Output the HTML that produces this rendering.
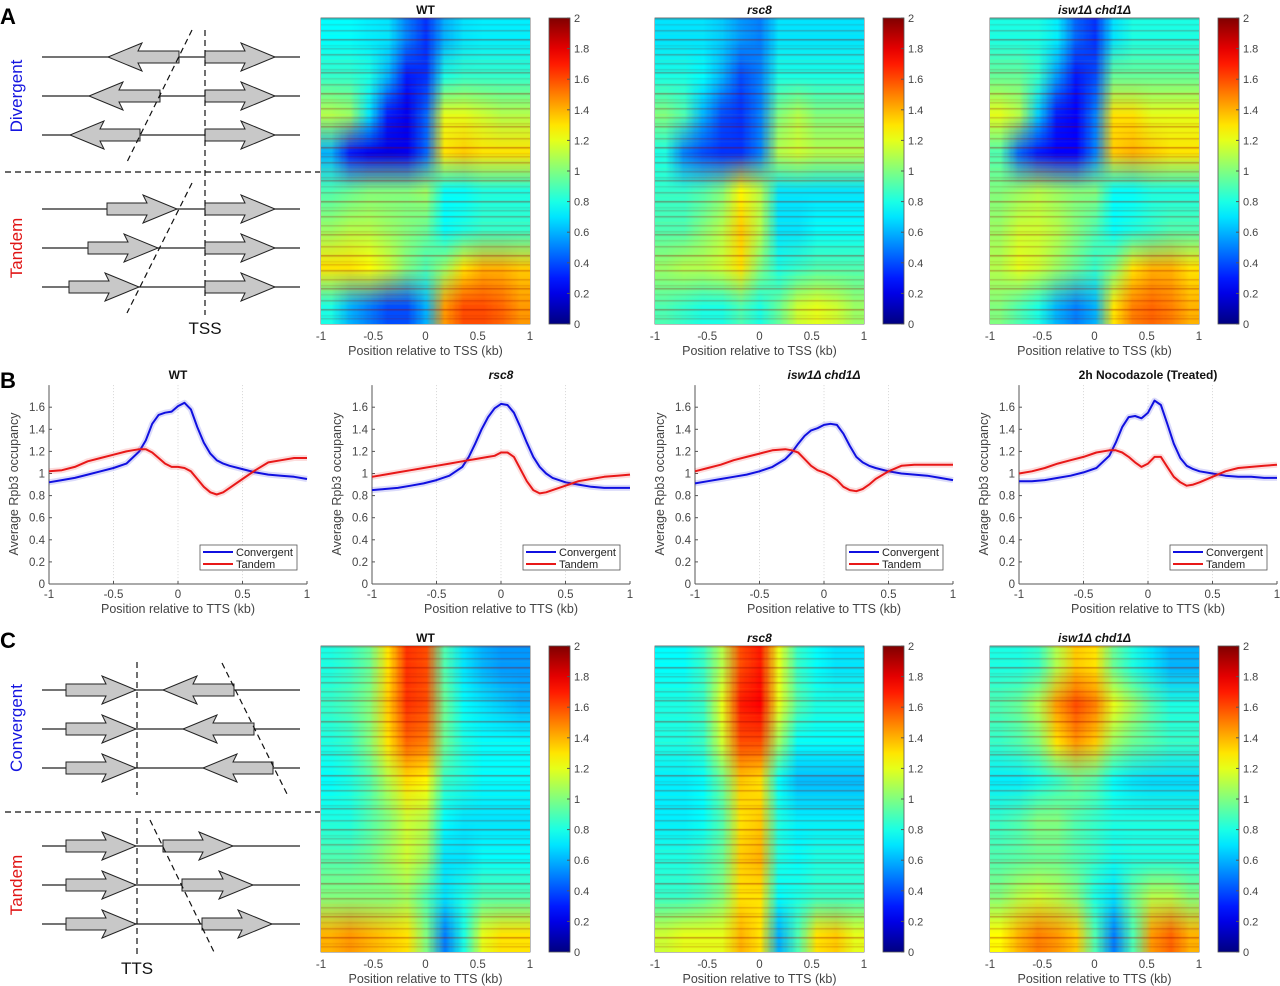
<!DOCTYPE html>
<html><head><meta charset="utf-8">
<style>
body{margin:0;background:#fff;}
#root{position:relative;width:1280px;height:986px;overflow:hidden;font-family:"Liberation Sans",sans-serif;}
canvas{position:absolute;}
svg{position:absolute;left:0;top:0;}
</style></head>
<body>
<div id="root">
<svg id="svg" width="1280" height="986"></svg>
</div>
<script>
// ---------- DATA ----------
const heatXTicks = [-1, -0.5, 0, 0.5, 1];
const heatXTickLabels = ["-1", "-0.5", "0", "0.5", "1"];
const cbarTicks = [0, 0.2, 0.4, 0.6, 0.8, 1, 1.2, 1.4, 1.6, 1.8, 2];
const cbarTickLabels = ["0","0.2","0.4","0.6","0.8","1","1.2","1.4","1.6","1.8","2"];
const heatTitles = ["WT", "rsc8", "isw1\u0394 chd1\u0394"];
const heatA_WT = [
[0.75,0.75,0.72,0.7,0.5,0.35,0.6,0.7,0.72,0.72,0.72],
[0.85,0.85,0.8,0.6,0.3,0.35,0.8,0.85,0.85,0.85,0.85],
[1.1,1.05,0.7,0.3,0.22,0.45,1.2,1.2,1.15,1.1,1.1],
[0.6,0.3,0.22,0.2,0.22,0.45,1.3,1.35,1.3,1.3,1.3],
[0.9,0.95,1.0,1.0,1.0,1.05,0.75,0.75,0.8,0.8,0.8],
[1.05,1.1,1.1,1.05,1.0,0.95,0.75,0.8,0.85,0.85,0.85],
[1.3,1.3,1.25,1.15,1.0,0.9,1.05,1.3,1.4,1.4,1.35],
[0.8,0.6,0.5,0.4,0.4,0.6,1.45,1.6,1.6,1.55,1.45]];
const heatA_rsc8 = [
[0.7,0.7,0.7,0.65,0.55,0.5,0.7,0.7,0.7,0.7,0.7],
[0.8,0.8,0.75,0.6,0.4,0.5,0.8,0.8,0.8,0.8,0.8],
[1.0,0.9,0.6,0.4,0.35,0.5,1.0,1.1,1.0,1.0,1.0],
[0.8,0.5,0.4,0.35,0.35,0.5,1.1,1.15,1.1,1.1,1.1],
[0.85,0.85,0.9,1.0,1.25,1.1,0.7,0.7,0.7,0.7,0.7],
[0.9,0.9,1.0,1.1,1.35,1.1,0.7,0.7,0.75,0.75,0.75],
[1.05,1.1,1.1,1.15,1.3,1.0,0.8,0.85,0.9,0.9,0.9],
[0.9,0.85,0.8,0.8,0.9,0.8,0.95,1.15,1.2,1.15,1.05]];
const heatA_isw1 = [
[0.8,0.8,0.8,0.72,0.45,0.35,0.7,0.8,0.8,0.8,0.8],
[0.95,0.95,0.85,0.55,0.3,0.4,0.95,0.95,0.95,0.95,0.95],
[1.2,1.1,0.65,0.3,0.25,0.5,1.3,1.3,1.2,1.2,1.2],
[0.9,0.45,0.3,0.25,0.25,0.5,1.35,1.4,1.35,1.3,1.3],
[1.0,1.05,1.1,1.05,1.0,1.0,0.75,0.75,0.8,0.8,0.8],
[1.05,1.15,1.15,1.1,1.0,0.9,0.75,0.8,0.85,0.9,0.9],
[1.1,1.2,1.15,1.05,0.95,0.85,1.0,1.3,1.4,1.4,1.3],
[1.0,0.9,0.8,0.6,0.5,0.6,1.3,1.5,1.55,1.5,1.4]];
const heatC_WT = [
[0.8,0.85,0.95,1.3,1.65,1.6,0.9,0.7,0.6,0.55,0.55],
[0.85,0.9,1.0,1.35,1.65,1.6,0.95,0.75,0.7,0.65,0.6],
[0.8,0.85,1.0,1.3,1.55,1.5,0.95,0.8,0.75,0.75,0.75],
[0.75,0.8,0.9,1.1,1.3,1.25,0.85,0.8,0.75,0.75,0.75],
[0.8,0.8,0.9,1.0,1.15,1.1,0.75,0.7,0.7,0.7,0.7],
[0.9,0.9,0.95,1.05,1.15,1.05,0.7,0.7,0.75,0.75,0.75],
[1.0,1.0,1.0,1.0,1.05,0.9,0.7,0.8,0.9,0.9,0.9],
[1.4,1.45,1.4,1.35,1.3,1.0,0.5,0.8,1.2,1.3,1.3]];
const heatC_rsc8 = [
[0.75,0.75,0.85,1.1,1.6,1.7,1.2,0.85,0.75,0.7,0.7],
[0.8,0.8,0.85,1.2,1.7,1.75,1.2,0.9,0.8,0.8,0.8],
[0.8,0.8,0.85,1.15,1.6,1.6,1.05,0.75,0.75,0.75,0.75],
[0.72,0.72,0.75,0.95,1.35,1.3,0.75,0.62,0.62,0.62,0.62],
[0.72,0.72,0.75,0.9,1.3,1.35,0.8,0.72,0.72,0.72,0.72],
[0.8,0.8,0.85,0.95,1.35,1.4,0.8,0.75,0.8,0.8,0.8],
[0.85,0.85,0.9,1.0,1.3,1.3,0.75,0.8,0.85,0.85,0.85],
[1.15,1.2,1.2,1.2,1.4,1.3,0.6,0.9,1.3,1.35,1.2]];
const heatC_isw1 = [
[0.8,0.8,0.85,1.1,1.35,1.3,0.95,0.8,0.7,0.6,0.6],
[0.9,0.95,1.1,1.45,1.6,1.5,1.2,1.05,0.9,0.8,0.8],
[0.85,0.9,1.0,1.3,1.45,1.35,1.05,0.95,0.9,0.85,0.85],
[0.72,0.72,0.78,0.85,0.95,0.9,0.75,0.7,0.68,0.68,0.68],
[0.85,0.9,1.0,1.0,0.9,0.85,0.8,0.8,0.8,0.8,0.8],
[0.9,0.92,0.95,0.95,0.9,0.85,0.78,0.8,0.8,0.8,0.8],
[1.0,1.1,1.15,1.1,1.0,0.8,0.7,0.95,1.1,1.1,1.0],
[1.25,1.4,1.5,1.45,1.35,0.9,0.5,0.9,1.45,1.55,1.4]];

const lineX = [-1,-0.9,-0.8,-0.7,-0.6,-0.5,-0.4,-0.3,-0.25,-0.2,-0.15,-0.1,-0.05,0,0.05,0.1,0.15,0.2,0.25,0.3,0.35,0.4,0.5,0.6,0.7,0.8,0.9,1];
const wtConv   = [.92,.94,.96,.99,1.02,1.05,1.09,1.2,1.3,1.45,1.53,1.55,1.56,1.61,1.64,1.58,1.42,1.28,1.18,1.12,1.09,1.07,1.04,1.01,.99,.98,.97,.95];
const wtTand   = [1.02,1.03,1.06,1.11,1.14,1.17,1.2,1.22,1.22,1.19,1.14,1.09,1.06,1.06,1.05,1.02,.95,.88,.83,.81,.83,.87,.95,1.03,1.10,1.12,1.14,1.14];
const rscConv  = [.85,.86,.87,.89,.91,.94,.98,1.06,1.15,1.27,1.40,1.51,1.59,1.63,1.62,1.55,1.42,1.28,1.15,1.06,1.0,.96,.92,.90,.88,.87,.87,.87];
const rscTand  = [.97,.99,1.01,1.03,1.05,1.07,1.09,1.11,1.12,1.13,1.14,1.15,1.16,1.19,1.19,1.15,1.04,.93,.85,.82,.83,.85,.89,.93,.95,.97,.98,.99];
const iswConv  = [.91,.93,.95,.97,.99,1.02,1.06,1.13,1.19,1.27,1.34,1.39,1.41,1.44,1.45,1.44,1.36,1.25,1.15,1.10,1.07,1.05,1.02,1.0,.99,.98,.96,.94];
const iswTand  = [1.02,1.05,1.08,1.12,1.15,1.18,1.21,1.22,1.21,1.19,1.13,1.07,1.03,1.01,.98,.94,.88,.85,.84,.86,.90,.95,1.02,1.07,1.08,1.08,1.08,1.08];
const nocoConv = [.93,.93,.94,.96,.98,1.01,1.05,1.16,1.28,1.42,1.51,1.52,1.50,1.55,1.66,1.62,1.45,1.27,1.14,1.07,1.04,1.02,1.0,.98,.97,.97,.96,.96];
const nocoTand = [1.0,1.02,1.05,1.09,1.12,1.15,1.19,1.21,1.21,1.19,1.15,1.10,1.06,1.09,1.15,1.15,1.06,.97,.92,.89,.90,.92,.97,1.02,1.05,1.06,1.07,1.08];
const lineTitles = ["WT", "rsc8", "isw1\u0394 chd1\u0394", "2h Nocodazole (Treated)"];
const lineYTicks = [0,0.2,0.4,0.6,0.8,1,1.2,1.4,1.6];
const lineYTickLabels = ["0","0.2","0.4","0.6","0.8","1","1.2","1.4","1.6"];
const lineXTicks = [-1,-0.5,0,0.5,1];
const lineXTickLabels = ["-1","-0.5","0","0.5","1"];
const legendLabels = ["Convergent", "Tandem"];

// ---------- HELPERS ----------
const NS = "http://www.w3.org/2000/svg";
const svg = document.getElementById('svg');
const root = document.getElementById('root');
function mk(tag, attrs, parent){const e=document.createElementNS(NS,tag);for(const k in attrs)e.setAttribute(k,attrs[k]);(parent||svg).appendChild(e);return e;}
function txt(s, attrs, parent){const e=mk('text',attrs,parent);e.textContent=s;return e;}
function jet(v){
  const t=Math.max(0,Math.min(1,v/2));
  const c=(x)=>Math.max(0,Math.min(1,x));
  const r=c(1.5-Math.abs(4*t-3)), g=c(1.5-Math.abs(4*t-2)), b=c(1.5-Math.abs(4*t-1));
  return [Math.round(r*255),Math.round(g*255),Math.round(b*255)];
}
const defs = mk('defs',{});
const grad = mk('linearGradient',{id:'jet',x1:0,y1:1,x2:0,y2:0},defs);
for(let i=0;i<=20;i++){const c=jet(i/10);mk('stop',{offset:(i/20),'stop-color':`rgb(${c[0]},${c[1]},${c[2]})`},grad);}

// stripe texture pattern (visual texture only)
const stripeAlpha=[0.35,0,0.12,0,0.25,0.05,0,0.4,0,0.1,0.2,0,0.3,0,0.08,0.22,0,0.15];
const stripeKind=[0,1,0,1,0,1,1,0,1,0,0,1,0,1,1,0,1,0];

// ---------- HEATMAPS ----------
function heatmap(data, hx, hy, title, xlabel, divColor, name){
  const W=209, H=306;
  const xs = v => hx + (v+1)/2*W;
  const small=document.createElement('canvas');
  small.width=data[0].length; small.height=data.length;
  const sc=small.getContext('2d');
  data.forEach((row,ri)=>row.forEach((v,ci)=>{const c=jet(v);sc.fillStyle=`rgb(${c[0]},${c[1]},${c[2]})`;sc.fillRect(ci,ri,1,1);}));
  const cv=document.createElement('canvas');
  
  
  cv.width=W; cv.height=H; cv.style.left=hx+'px'; cv.style.top=hy+'px';
  const ctx=cv.getContext('2d'); ctx.imageSmoothingEnabled=true;
  ctx.drawImage(small,0,0,small.width,small.height,0,0,W,H);
  let k=0;
  for(let y=0;y<H;y+=3,k++){
    const a=stripeAlpha[k%stripeAlpha.length];
    if(a<=0) continue;
    ctx.fillStyle= stripeKind[k%stripeKind.length]===0 ? `rgba(150,0,0,${a})` : `rgba(255,210,0,${a})`;
    ctx.fillRect(0,y,W,1.5);
  }
  root.appendChild(cv);
  const g=mk('g',{});
  
  
  mk('line',{x1:hx,x2:hx+W,y1:hy+H/2,y2:hy+H/2,stroke:divColor,'stroke-width':2},g);
  mk('line',{x1:xs(0),x2:xs(0),y1:hy,y2:hy+H,stroke:'#fff','stroke-width':2.5,'stroke-dasharray':'8,5'},g);
  mk('rect',{x:hx,y:hy,width:W,height:H,fill:'none',stroke:'#555','stroke-width':0.8},g);
  const t=txt(title,{x:hx+W/2,y:hy-4,'text-anchor':'middle','font-size':12,'font-weight':'bold','font-style':title==='WT'?'normal':'italic',fill:'#111'},g);
  
  heatXTicks.forEach((v,i)=>{
    const tl=txt(heatXTickLabels[i],{x:xs(v),y:hy+H+16,'text-anchor':'middle','font-size':11.5,fill:'#444'},g);
    
  });
  const xl=txt(xlabel,{x:hx+W/2,y:hy+H+31,'text-anchor':'middle','font-size':12.5,fill:'#444'},g);
  
  const cx=hx+228, cw=21;
  const cb=mk('rect',{x:cx,y:hy,width:cw,height:H,fill:'url(#jet)',stroke:'#555','stroke-width':0.8},g);
  
  cbarTicks.forEach((v,i)=>{
    const y=hy+H-v/2*H;
    mk('line',{x1:cx+cw-3,x2:cx+cw,y1:y,y2:y,stroke:'#555'},g);
    const l=txt(cbarTickLabels[i],{x:cx+cw+4,y:y+4,'font-size':11,fill:'#444'},g);
    
  });
}
const hxs=[321,655,990];
[heatA_WT,heatA_rsc8,heatA_isw1].forEach((d,i)=>heatmap(d,hxs[i],18,heatTitles[i],"Position relative to TSS (kb)","#fff","heatmap-a-"+i));
[heatC_WT,heatC_rsc8,heatC_isw1].forEach((d,i)=>heatmap(d,hxs[i],646,heatTitles[i],"Position relative to TTS (kb)",i===0?"#333":"#fff","heatmap-c-"+i));

// ---------- LINE CHARTS ----------
function linechart(conv, tand, x0, title, name){
  const W=258, y0=584, yscale=110.5;
  const xs=v=>x0+(v+1)/2*W, ys=v=>y0-v*yscale;
  const g=mk('g',{});
  
  
  [-0.5,0,0.5].forEach(v=>mk('line',{x1:xs(v),x2:xs(v),y1:ys(1.8),y2:y0,stroke:'#ccc','stroke-dasharray':'1,2','stroke-width':0.8},g));
  mk('line',{x1:x0,x2:x0,y1:ys(1.8),y2:y0,stroke:'#555'},g);
  mk('line',{x1:x0,x2:x0+W,y1:y0,y2:y0,stroke:'#555'},g);
  lineYTicks.forEach((v,i)=>{
    mk('line',{x1:x0,x2:x0+3,y1:ys(v),y2:ys(v),stroke:'#555'},g);
    const l=txt(lineYTickLabels[i],{x:x0-4,y:ys(v)+4,'text-anchor':'end','font-size':11.5,fill:'#444'},g);
    
  });
  lineXTicks.forEach((v,i)=>{
    mk('line',{x1:xs(v),x2:xs(v),y1:y0,y2:y0-3,stroke:'#555'},g);
    const l=txt(lineXTickLabels[i],{x:xs(v),y:y0+14,'text-anchor':'middle','font-size':11.5,fill:'#444'},g);
    
  });
  const xl=txt("Position relative to TTS (kb)",{x:x0+W/2,y:613,'text-anchor':'middle','font-size':12.5,fill:'#444'},g);
  
  const yl=txt("Average Rpb3 occupancy",{x:0,y:0,'text-anchor':'middle','font-size':12.5,fill:'#444',transform:`translate(${x0-31},484) rotate(-90)`},g);
  
  const t=txt(title,{x:x0+W/2,y:379,'text-anchor':'middle','font-size':12,'font-weight':'bold','font-style':(title==='rsc8'||title.startsWith('isw1'))?'italic':'normal',fill:'#111'},g);
  
  function path(vals,color,n){
    const d=vals.map((v,i)=>(i?'L':'M')+xs(lineX[i]).toFixed(1)+','+ys(v).toFixed(1)).join(' ');
    const band=mk('path',{d,fill:'none',stroke:color,'stroke-opacity':0.15,'stroke-width':6,'stroke-linejoin':'round'},g);
    
    const p=mk('path',{d,fill:'none',stroke:color,'stroke-width':2,'stroke-linejoin':'round'},g);
    
  }
  path(conv,'#1010e0','convergent');
  path(tand,'#e81818','tandem');
  const lx=x0+151, ly=545;
  const lg=mk('g',{},g);
  
  
  mk('rect',{x:lx,y:ly,width:97,height:25,fill:'#fff',stroke:'#555','stroke-width':0.8},lg);
  mk('line',{x1:lx+3,x2:lx+33,y1:ly+7,y2:ly+7,stroke:'#1010e0','stroke-width':2},lg);
  mk('line',{x1:lx+3,x2:lx+33,y1:ly+19,y2:ly+19,stroke:'#e81818','stroke-width':2},lg);
  const l1=txt(legendLabels[0],{x:lx+36,y:ly+11,'font-size':11,fill:'#222'},lg);
  
  const l2=txt(legendLabels[1],{x:lx+36,y:ly+23,'font-size':11,fill:'#222'},lg);
  
}
linechart(wtConv,wtTand,49,lineTitles[0],'line-chart-wt');
linechart(rscConv,rscTand,372,lineTitles[1],'line-chart-rsc8');
linechart(iswConv,iswTand,695,lineTitles[2],'line-chart-isw1-chd1');
linechart(nocoConv,nocoTand,1019,lineTitles[3],'line-chart-nocodazole');

// ---------- DIAGRAMS ----------
function arrow(x1,x2,y,dir,g){
  let pts;
  if(dir===1){const hb=x2-30;pts=[[x1,y-6],[hb,y-6],[hb-4,y-14],[x2,y],[hb-4,y+14],[hb,y+6],[x1,y+6]];}
  else{const hb=x1+30;pts=[[x2,y-6],[hb,y-6],[hb+4,y-14],[x1,y],[hb+4,y+14],[hb,y+6],[x2,y+6]];}
  const p=mk('polygon',{points:pts.map(q=>q.join(',')).join(' '),fill:'#c8c8c8',stroke:'#222','stroke-width':1},g);
  
}
function dashed(x1,y1,x2,y2,g){mk('line',{x1,y1,x2,y2,stroke:'#111','stroke-width':1.2,'stroke-dasharray':'6,4'},g);}
const dA=mk('g',{});  
[57,96,135,209,248,287].forEach(y=>mk('line',{x1:42,x2:300,y1:y,y2:y,stroke:'#222','stroke-width':1.2},dA));
[[108,179,57],[89,160,96],[70,140,135]].forEach(a=>arrow(a[0],a[1],a[2],-1,dA));
[[107,177,209],[88,158,248],[69,139,287]].forEach(a=>arrow(a[0],a[1],a[2],1,dA));
[57,96,135,209,248,287].forEach(y=>arrow(205,275,y,1,dA));
dashed(205,30,205,315,dA); dashed(192,30,127,162,dA); dashed(192,183,127,313,dA);
dashed(5,172,320,172,dA);
txt("TSS",{x:205,y:334,'text-anchor':'middle','font-size':17,fill:'#111'},dA);
txt("Divergent",{x:0,y:0,'text-anchor':'middle','font-size':17,fill:'#1515e0',transform:'translate(22,96) rotate(-90)'},dA);
txt("Tandem",{x:0,y:0,'text-anchor':'middle','font-size':17,fill:'#e01515',transform:'translate(22,248) rotate(-90)'},dA);
txt("A",{x:0,y:24,'font-size':22,'font-weight':'bold',fill:'#000'},dA);
txt("B",{x:0,y:388,'font-size':22,'font-weight':'bold',fill:'#000'});

const dC=mk('g',{});  
[690,729,768,846,885,924].forEach(y=>mk('line',{x1:42,x2:300,y1:y,y2:y,stroke:'#222','stroke-width':1.2},dC));
[690,729,768,846,885,924].forEach(y=>arrow(66,136,y,1,dC));
[[163,234,690],[183,254,729],[203,273,768]].forEach(a=>arrow(a[0],a[1],a[2],-1,dC));
[[163,233,846],[182,253,885],[202,272,924]].forEach(a=>arrow(a[0],a[1],a[2],1,dC));
dashed(137,662,137,795,dC); dashed(137,818,137,958,dC);
dashed(222,663,287,794,dC); dashed(150,820,214,952,dC);
dashed(5,812,320,812,dC);
txt("TTS",{x:137,y:974,'text-anchor':'middle','font-size':17,fill:'#111'},dC);
txt("Convergent",{x:0,y:0,'text-anchor':'middle','font-size':17,fill:'#1515e0',transform:'translate(22,728) rotate(-90)'},dC);
txt("Tandem",{x:0,y:0,'text-anchor':'middle','font-size':17,fill:'#e01515',transform:'translate(22,885) rotate(-90)'},dC);
txt("C",{x:0,y:648,'font-size':22,'font-weight':'bold',fill:'#000'},dC);
</script>
</body></html>
